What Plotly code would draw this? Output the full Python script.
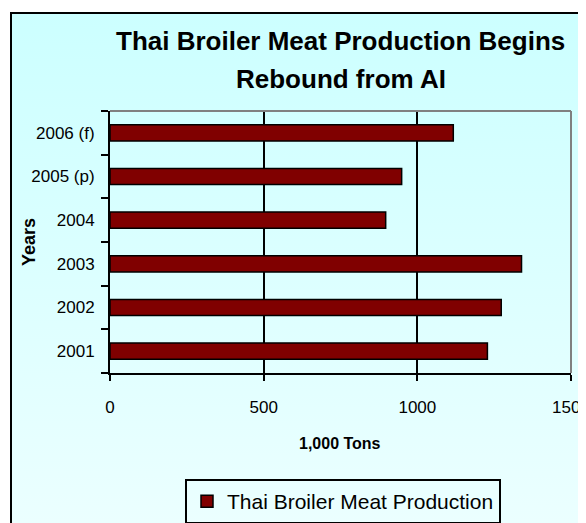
import base64

import plotly.graph_objects as go

# data (1,000 tons)
years = ["2001", "2002", "2003", "2004", "2005 (p)", "2006 (f)"]
production = [1228, 1273, 1339, 897, 949, 1117]
series_name = "Thai Broiler Meat Production"
x_ticks = [0, 500, 1000, 1500]

# the page body has an 8px margin, so the figure is drawn 8px in from the corner
OFF = 8
W, H = 586 - OFF, 523 - OFF
# plot area, in page pixels
L, R, T, B = 110, 571, 111, 373


def px_x(px):
    return (px - L) / (R - L)


def px_y(py):
    return (B - py) / (B - T)


FONT = "Liberation Sans, Arial, sans-serif"

# background gradient for the chart frame (light cyan -> near white)
svg = (
    '<svg xmlns="http://www.w3.org/2000/svg" width="100" height="100" preserveAspectRatio="none">'
    '<defs><linearGradient id="g" x1="0" y1="0" x2="0" y2="1">'
    '<stop offset="0" stop-color="#ccffff"/><stop offset="1" stop-color="#ecffff"/>'
    "</linearGradient></defs>"
    '<rect width="100" height="100" fill="url(#g)"/></svg>'
)
bg_src = "data:image/svg+xml;base64," + base64.b64encode(svg.encode()).decode()

fig = go.Figure(
    go.Bar(
        x=production,
        y=years,
        orientation="h",
        name=series_name,
        width=0.37,
        marker=dict(color="#800000", line=dict(color="black", width=1.5)),
        showlegend=True,
    )
)

fig.update_layout(
    width=W,
    height=H,
    margin=dict(l=L - OFF, r=586 - R, t=T - OFF, b=523 - B, pad=0, autoexpand=False),
    paper_bgcolor="white",
    plot_bgcolor="white",
    font=dict(family=FONT, size=17, color="black"),
    legend=dict(
        x=px_x(343),
        y=1 - (479 - OFF) / H,
        yref="container",
        xanchor="center",
        yanchor="top",
        bgcolor="rgba(0,0,0,0)",
        bordercolor="black",
        borderwidth=2,
        font=dict(family=FONT, size=21, color="black"),
    ),
)

fig.update_xaxes(
    range=[0, 1500],
    tickvals=x_ticks,
    showgrid=True,
    gridcolor="black",
    gridwidth=1.5,
    zeroline=False,
    showline=True,
    linecolor="black",
    linewidth=2,
    ticks="outside",
    ticklen=6,
    tickwidth=2,
    tickcolor="black",
    ticklabelstandoff=12,
    ticklabeloverflow="allow",
)

fig.update_yaxes(
    categoryorder="array",
    categoryarray=years,
    showgrid=False,
    zeroline=False,
    showline=True,
    linecolor="black",
    linewidth=2,
    ticks="outside",
    tickson="boundaries",
    ticklen=7,
    tickwidth=2,
    tickcolor="black",
    ticklabelstandoff=10,
)

# gradient behind everything, inside the outer frame
fig.add_layout_image(
    source=bg_src,
    xref="paper",
    yref="paper",
    x=px_x(11),
    y=px_y(13),
    sizex=px_x(600) - px_x(11),
    sizey=px_y(13) - px_y(540),
    xanchor="left",
    yanchor="top",
    sizing="stretch",
    layer="below",
)

# outer frame (runs off the right and bottom edges)
fig.add_shape(
    type="rect",
    xref="paper",
    yref="paper",
    x0=px_x(11),
    x1=px_x(600),
    y0=px_y(540),
    y1=px_y(13),
    line=dict(color="black", width=2),
    fillcolor="rgba(0,0,0,0)",
    layer="above",
)

# grey top and right edges of the plot area
for x0, y0, x1, y1 in [(0, 1, 1, 1), (1, 0, 1, 1)]:
    fig.add_shape(
        type="line",
        xref="x domain",
        yref="y domain",
        x0=x0,
        y0=y0,
        x1=x1,
        y1=y1,
        line=dict(color="#808080", width=2),
        layer="above",
    )

# title lines
for text, py in [("Thai Broiler Meat Production Begins", 41), ("Rebound from AI", 79)]:
    fig.add_annotation(
        text=f"<b>{text}</b>",
        xref="paper",
        yref="paper",
        x=0.5,
        y=px_y(py),
        xanchor="center",
        yanchor="middle",
        showarrow=False,
        font=dict(family=FONT, size=26, color="black"),
    )

# axis titles
fig.add_annotation(
    text="<b>Years</b>",
    xref="paper",
    yref="paper",
    x=px_x(29),
    y=0.5,
    textangle=-90,
    xanchor="center",
    yanchor="middle",
    showarrow=False,
    font=dict(family=FONT, size=18, color="black"),
)
fig.add_annotation(
    text="<b>1,000 Tons</b>",
    xref="paper",
    yref="paper",
    x=px_x(340),
    y=px_y(443),
    xanchor="center",
    yanchor="middle",
    showarrow=False,
    font=dict(family=FONT, size=16, color="black"),
)

fig.write_html("out.html")
